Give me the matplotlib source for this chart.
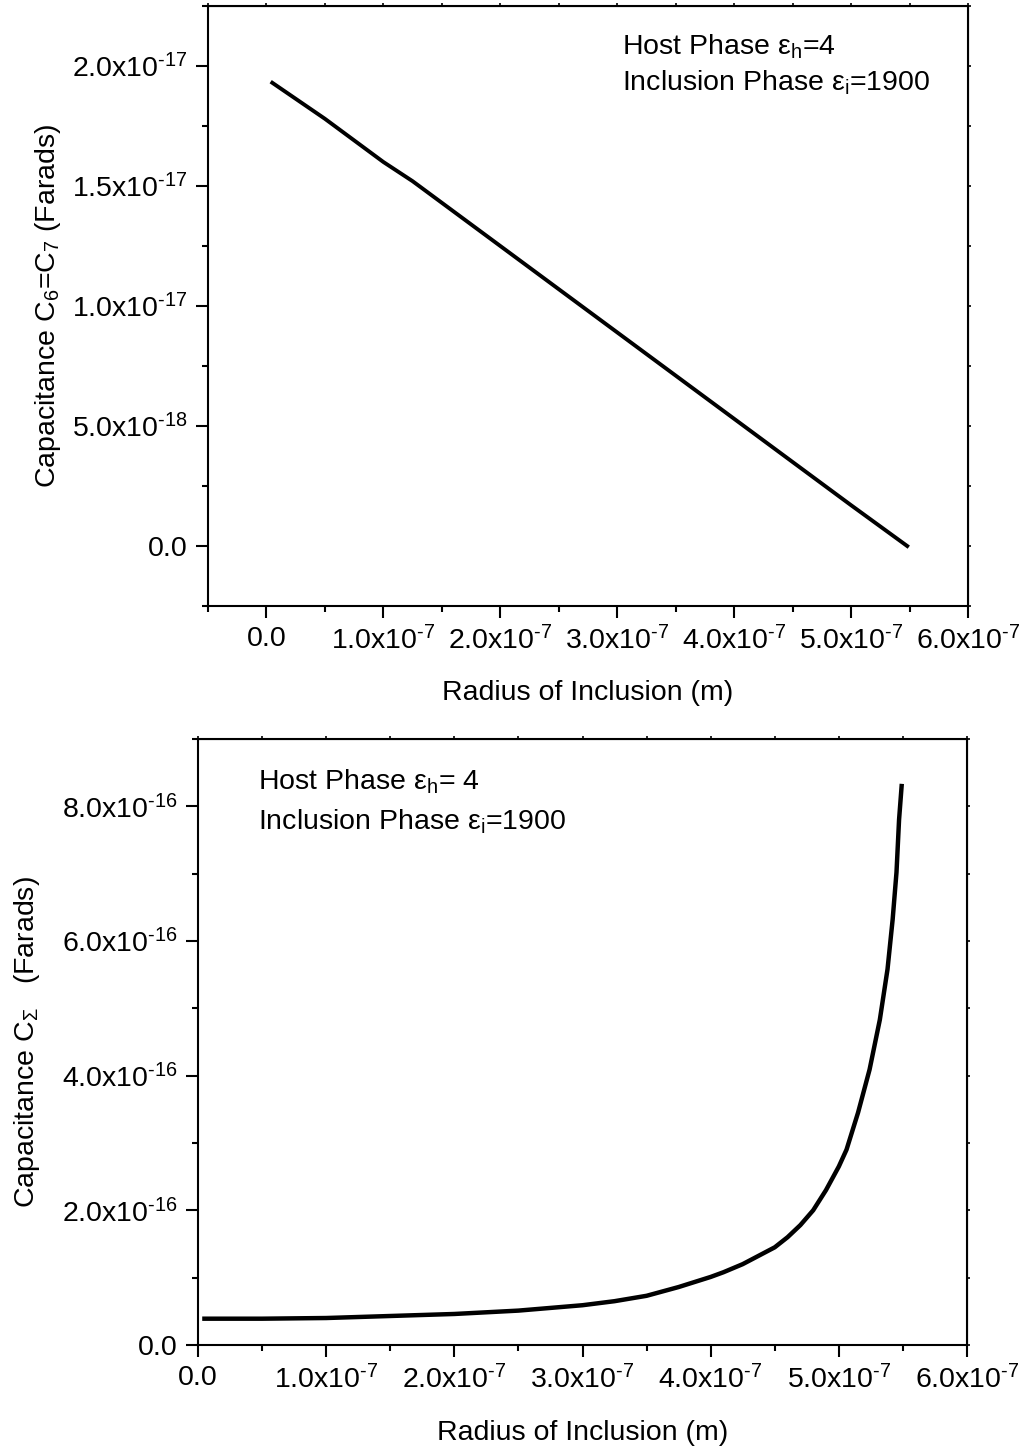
import numpy as np
import matplotlib
matplotlib.use("Agg")
import matplotlib.pyplot as plt
from matplotlib.ticker import MultipleLocator, FuncFormatter, NullFormatter

plt.rcParams['font.family'] = ['Liberation Sans', 'DejaVu Sans']
plt.rcParams['mathtext.fontset'] = 'custom'
plt.rcParams['mathtext.rm'] = 'Liberation Sans'
plt.rcParams['mathtext.it'] = 'Liberation Sans:italic'
plt.rcParams['mathtext.bf'] = 'Liberation Sans:bold'

######## data (radius in 1e-7 m) ########
radius_top = [0.05, 0.5, 1.0, 1.25, 1.5, 2.0, 2.5, 3.0, 3.5, 4.0, 4.5, 5.0, 5.48]
cap_c6_c7 = [1.93, 1.78, 1.60, 1.52, 1.43, 1.25, 1.07, 0.89, 0.71, 0.53,
             0.35, 0.17, 0.0]        # 1e-17 F

radius_bot = [0.05, 0.5, 1.0, 1.5, 2.0, 2.5, 3.0, 3.25, 3.5, 3.75, 4.0,
              4.1, 4.25, 4.4, 4.5, 4.6, 4.7, 4.8, 4.9, 5.0, 5.06, 5.15,
              5.24, 5.32, 5.38, 5.42, 5.45, 5.47, 5.49]
cap_sigma = [0.39, 0.39, 0.40, 0.43, 0.46, 0.51, 0.59, 0.65, 0.73, 0.86,
             1.01, 1.08, 1.20, 1.35, 1.45, 1.60, 1.78, 2.0, 2.30, 2.65,
             2.90, 3.45, 4.09, 4.83, 5.58, 6.32, 7.02, 7.8, 8.3]  # 1e-16 F
##############################################################

FS = 20.5


def sci_label(v, pos=None):
    if abs(v) < 1e-30:
        return "0.0"
    e = int(np.floor(np.log10(abs(v)) + 1e-9))
    m = v / 10.0**e
    sign = r"\text{-}" if e < 0 else ""
    return "%.1fx10$^{%s%d}$" % (m, sign, abs(e))


def styleAxes(ax, xminor, yminor, xmajor, ymajor):
    ax.xaxis.set_major_locator(MultipleLocator(xmajor))
    ax.xaxis.set_minor_locator(MultipleLocator(xminor))
    ax.yaxis.set_major_locator(MultipleLocator(ymajor))
    ax.yaxis.set_minor_locator(MultipleLocator(yminor))
    ax.xaxis.set_major_formatter(FuncFormatter(sci_label))
    ax.yaxis.set_major_formatter(FuncFormatter(sci_label))
    ax.tick_params(which='major', direction='out', length=8.5, width=1.5,
                   labelsize=FS, pad=6)
    ax.tick_params(which='minor', direction='out', length=4.5, width=1.5)
    for s in ax.spines.values():
        s.set_linewidth(1.5)
    # little ticks on the top and right frame
    top = ax.secondary_xaxis('top')
    top.xaxis.set_major_locator(MultipleLocator(xminor))
    top.xaxis.set_major_formatter(NullFormatter())
    top.tick_params(direction='out', length=2.5, width=1.2)
    right = ax.secondary_yaxis('right')
    right.yaxis.set_major_locator(MultipleLocator(yminor))
    right.yaxis.set_major_formatter(NullFormatter())
    right.tick_params(direction='out', length=2.5, width=1.2)


fig = plt.figure(figsize=(10.25, 14.54), dpi=100)

# ---------------- top panel ----------------
ax1 = fig.add_axes([0.2029, 0.5832, 0.7415, 0.4127])
ax1.plot(np.array(radius_top) * 1e-7, np.array(cap_c6_c7) * 1e-17,
         color='black', lw=2.8)
ax1.set_xlim(-0.5e-7, 6.0e-7)
ax1.set_ylim(-0.25e-17, 2.25e-17)
styleAxes(ax1, 0.5e-7, 0.25e-17, 1e-7, 0.5e-17)
ax1.set_xlabel("Radius of Inclusion (m)", fontsize=FS)
ax1.set_ylabel(r"Capacitance C$_\mathregular{6}$=C$_\mathregular{7}$ (Farads)",
               fontsize=FS)
ax1.xaxis.set_label_coords(0.5, -0.145)
ax1.xaxis.label.set_va('center')
ax1.yaxis.set_label_coords(-0.2105, 0.5)
ax1.yaxis.label.set_va('center')
ax1.yaxis.label.set_ha('center')
ax1.text(0.545, 0.932, r"Host Phase ε$_\mathregular{h}$=4", fontsize=FS,
         transform=ax1.transAxes, va='center', ha='left')
ax1.text(0.545, 0.872, r"Inclusion Phase ε$_\mathregular{i}$=1900",
         fontsize=FS, transform=ax1.transAxes, va='center', ha='left')

# ---------------- bottom panel ----------------
ax2 = fig.add_axes([0.1932, 0.0750, 0.7502, 0.4168])
ax2.plot(np.array(radius_bot) * 1e-7, np.array(cap_sigma) * 1e-16,
         color='black', lw=3.2)
ax2.set_xlim(0, 6.0e-7)
ax2.set_ylim(0, 9e-16)
styleAxes(ax2, 0.5e-7, 1e-16, 1e-7, 2e-16)
ax2.set_xlabel("Radius of Inclusion (m)", fontsize=FS)
ax2.set_ylabel(r"Capacitance C$_\mathregular{\Sigma}$   (Farads)", fontsize=FS)
ax2.xaxis.set_label_coords(0.5, -0.145)
ax2.xaxis.label.set_va('center')
ax2.yaxis.set_label_coords(-0.222, 0.5)
ax2.yaxis.label.set_va('center')
ax2.yaxis.label.set_ha('center')
ax2.text(0.078, 0.929, r"Host Phase ε$_\mathregular{h}$= 4", fontsize=FS,
         transform=ax2.transAxes, va='center', ha='left')
ax2.text(0.078, 0.863, r"Inclusion Phase ε$_\mathregular{i}$=1900",
         fontsize=FS, transform=ax2.transAxes, va='center', ha='left')

fig.savefig("out.png", dpi=100)
